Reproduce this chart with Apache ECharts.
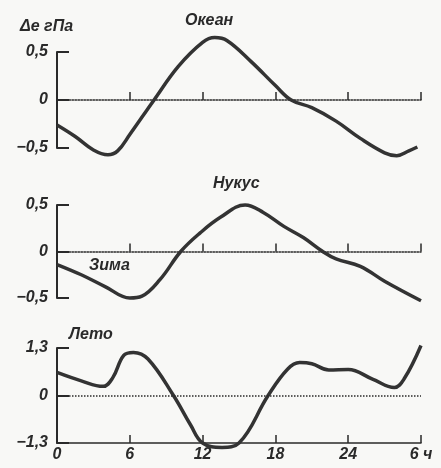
<!DOCTYPE html>
<html>
<head>
<meta charset="utf-8">
<script src="https://cdn.jsdelivr.net/npm/echarts@6/dist/echarts.min.js"></script>
<style>
  html, body { margin: 0; padding: 0; background: #f8f8f6; }
  #chart { width: 441px; height: 468px; }
</style>
</head>
<body>
<div id="chart"></div>
<script>
// [hour, Δe hPa]
const oceanData = [[0,-0.26],[1.5,-0.38],[3,-0.52],[4.2,-0.57],[5,-0.53],[6,-0.36],[8,0],[10,0.35],[12,0.6],[13,0.65],[14,0.62],[16,0.4],[18,0.15],[19.3,0],[21,-0.08],[23,-0.22],[25,-0.4],[27,-0.55],[28,-0.58],[29,-0.53],[29.7,-0.49]];
const nukusWinter = [[0,-0.14],[2,-0.25],[4,-0.38],[6,-0.5],[7,-0.48],[8.5,-0.3],[10.2,0],[11.8,0.2],[13.5,0.37],[15.5,0.5],[17,0.42],[18.7,0.27],[20.3,0.15],[21.9,0],[23,-0.08],[25,-0.16],[27,-0.32],[30,-0.53]];
const nukusSummer = [[0,0.63],[2,0.4],[3.8,0.25],[4.6,0.49],[5.5,1.1],[6.3,1.18],[7.5,1.0],[9.6,0],[11,-0.8],[12,-1.3],[13.6,-1.42],[15,-1.3],[17.4,0],[19,0.72],[20,0.9],[21,0.87],[22.4,0.7],[24,0.71],[26,0.45],[27.8,0.22],[28.6,0.45],[30,1.37]];
const hourTicks = [0, 6, 12, 18, 24, 30];

const ink = '#2a2a2a';
const font = 'Liberation Sans';
const lblStyle = { fontFamily: font, fontStyle: 'italic', fontWeight: 'bold', fontSize: 16, color: ink };
const fmtNum = v => v === 0 ? '0' : (v < 0 ? '−' : '') + String(Math.abs(v)).replace('.', ',');

const grids = [
  { left: 57, right: 20, top: 52, height: 96 },
  { left: 57, right: 20, top: 205, height: 93 },
  { left: 57, right: 20, top: 348, height: 95 }
];
const ranges = [[-0.5, 0.5, 0.5], [-0.5, 0.5, 0.5], [-1.3, 1.3, 1.3]];

const xAxes = grids.map((g, i) => ({
  type: 'value', gridIndex: i, min: hourTicks[0], max: hourTicks[hourTicks.length - 1], interval: 6,
  axisLine: { show: true, onZero: i < 2, lineStyle: { color: ink, width: 1.5, type: i < 2 ? 'dotted' : 'solid' } },
  axisTick: { show: true, inside: true, length: 8, lineStyle: { color: ink, width: 1.5 } },
  axisLabel: { show: i === 2, margin: 4, ...lblStyle, formatter: v => v === 30 ? '6 ч' : String(v) },
  splitLine: { show: false }
}));

const yAxes = grids.map((g, i) => ({
  type: 'value', gridIndex: i, min: ranges[i][0], max: ranges[i][1], interval: ranges[i][2],
  axisLine: { show: true, lineStyle: { color: ink, width: 2 } },
  axisTick: { show: true, inside: true, length: 12, lineStyle: { color: ink, width: 2 } },
  axisLabel: { margin: 9, ...lblStyle, formatter: fmtNum },
  splitLine: { show: false }
}));

const lineStyle = { color: '#333', width: 3.5 };
const series = [oceanData, nukusWinter, nukusSummer].map((d, i) => ({
  type: 'line', xAxisIndex: i, yAxisIndex: i, data: d, smooth: 0.4, symbol: 'none', clip: false,
  lineStyle: lineStyle,
  markLine: i === 2 ? {
    silent: true, symbol: 'none', label: { show: false },
    lineStyle: { color: ink, width: 1.5, type: 'dotted' },
    data: [{ yAxis: 0 }]
  } : undefined
}));

const txt = (x, y, s, align) => ({
  type: 'text', left: x, top: y,
  style: { text: s, fill: ink, font: 'italic bold 16px "' + font + '"', textAlign: align || 'left' }
});

const chart = echarts.init(document.getElementById('chart'));
chart.setOption({
  animation: false,
  backgroundColor: '#f8f8f6',
  grid: grids,
  xAxis: xAxes,
  yAxis: yAxes,
  series: series,
  graphic: [
    txt(20, 19, 'Δe гПа'),
    txt(185, 13, 'Океан'),
    txt(213, 176, 'Нукус'),
    txt(89, 258, 'Зима'),
    txt(69, 327, 'Лето')
  ]
});
</script>
</body>
</html>
